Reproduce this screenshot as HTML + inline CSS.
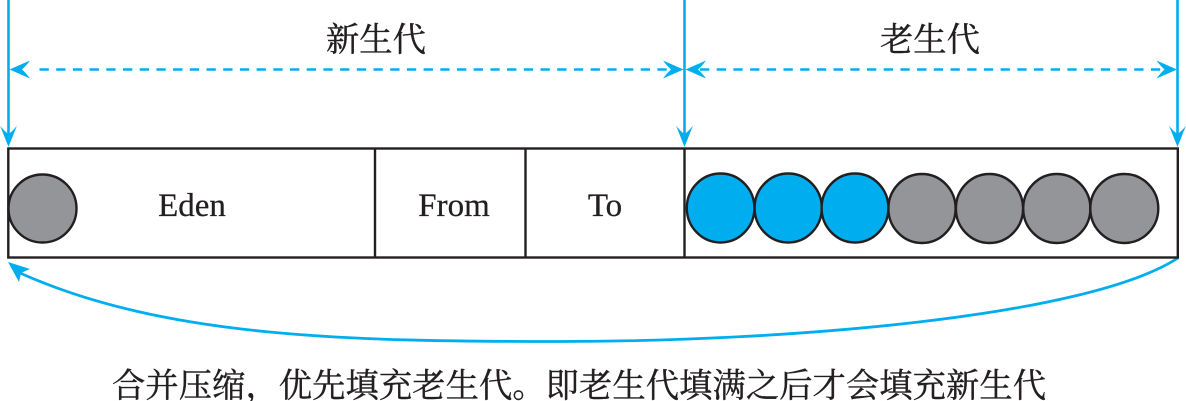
<!DOCTYPE html>
<html>
<head>
<meta charset="utf-8">
<style>
html,body{margin:0;padding:0;background:#fff;width:1186px;height:401px;overflow:hidden}
svg{display:block}
.cjk{font-family:"Liberation Serif","Noto Serif CJK SC",serif;font-size:33.3px;fill:#231f20;stroke:#231f20;stroke-width:.4px}
.lat{font-family:"Liberation Serif",serif;font-size:33px;fill:#231f20;text-anchor:middle;stroke:#231f20;stroke-width:.25px}
</style>
</head>
<body>
<svg width="1186" height="401" viewBox="0 0 1186 401" xmlns="http://www.w3.org/2000/svg">
<rect width="1186" height="401" fill="#fff"/>
<g stroke="#00aeef" stroke-width="2.6" fill="none">
<line x1="8.5" y1="0" x2="8.5" y2="135"/>
<line x1="684.5" y1="0" x2="684.5" y2="135"/>
<line x1="1177.5" y1="0" x2="1177.5" y2="135"/>
</g>
<g fill="#00aeef">
<path d="M8.5 147L0 125.5Q4 131 8.5 134Q13 131 17 125.5Z"/>
<path d="M684.5 147L676 125.5Q680 131 684.5 134Q689 131 693 125.5Z"/>
<path d="M1177.5 147L1169 125.5Q1173 131 1177.5 134Q1182 131 1186 125.5Z"/>
<path d="M9.5 69.5L30 60.5Q26 66 22 69.5Q26 73 30 78.5Z"/>
<path d="M683.5 69.5L663 60.5Q667 66 671 69.5Q667 73 663 78.5Z"/>
<path d="M685.5 69.5L706 60.5Q702 66 698 69.5Q702 73 706 78.5Z"/>
<path d="M1177 69.5L1156.5 60.5Q1160.5 66 1164.5 69.5Q1160.5 73 1156.5 78.5Z"/>
<path d="M8 262L30 269L21 273L19 282Z"/>
</g>
<g stroke="#00aeef" stroke-width="2.6" fill="none" stroke-dasharray="9.3 7.4">
<line x1="39.5" y1="69.5" x2="668" y2="69.5"/>
<line x1="700" y1="69.5" x2="1163" y2="69.5"/>
</g>
<path d="M1178 258C1085 318 780 341.5 560 341.5C350 341.5 165 338 20 273" stroke="#00aeef" stroke-width="2.8" fill="none"/>
<g fill="#939598" stroke="#231f20" stroke-width="2.4">
<circle cx="42.5" cy="208.5" r="34"/>
<ellipse cx="922" cy="208.5" rx="33.6" ry="34.5"/>
<ellipse cx="989.5" cy="208.5" rx="33.6" ry="34.5"/>
<ellipse cx="1056.8" cy="208.5" rx="33.6" ry="34.5"/>
<ellipse cx="1124.3" cy="208.5" rx="34" ry="34.5"/>
</g>
<g fill="#00aeef" stroke="#231f20" stroke-width="2.4">
<ellipse cx="720.6" cy="208" rx="33.8" ry="34.5"/>
<ellipse cx="788.2" cy="208" rx="33.6" ry="34.5"/>
<ellipse cx="855" cy="208" rx="33.4" ry="34.5"/>
</g>
<rect x="8.3" y="148.5" width="1169.5" height="109" fill="none" stroke="#231f20" stroke-width="2.4"/>
<g stroke="#231f20" stroke-width="2.4">
<line x1="375" y1="148" x2="375" y2="258"/>
<line x1="525.5" y1="148" x2="525.5" y2="258"/>
<line x1="684.5" y1="148" x2="684.5" y2="258"/>
</g>
<text class="lat" x="192" y="216">Eden</text>
<text class="lat" x="454" y="216">From</text>
<text class="lat" x="605" y="216">To</text>
<text class="cjk" x="326" y="51">新生代</text>
<text class="cjk" x="880" y="51">老生代</text>
<text class="cjk" x="112" y="397" textLength="934">合并压缩，优先填充老生代。即老生代填满之后才会填充新生代</text>
</svg>
</body>
</html>
